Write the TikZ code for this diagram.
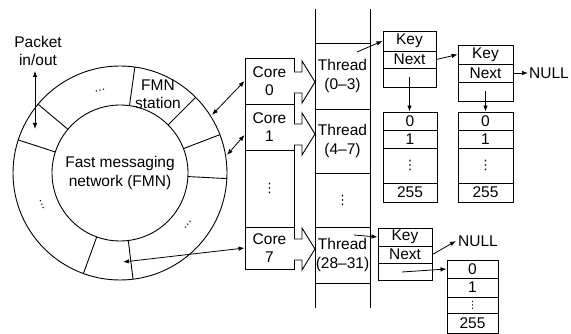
\documentclass[tikz,border=0pt]{standalone}
\usepackage{fontspec}
\setmainfont{Liberation Sans}
\newfontfamily\dvfont{DejaVu Sans}
\newcommand{\vd}{{\dvfont\fontsize{13}{13}\selectfont ⋮}}
\newcommand{\hd}{{\dvfont\fontsize{11}{11}\selectfont …}}
\usetikzlibrary{arrows.meta,calc}
\begin{document}
\begin{tikzpicture}[x=1pt,y=-1pt,
  every node/.style={font=\fontsize{15.5}{18.5}\selectfont, align=center},
  cell/.style={draw, line width=0.9pt, inner sep=0pt},
  ln/.style={line width=0.9pt},
  arr/.style={line width=0.8pt, -{Latex[length=6pt,width=4.5pt]}},
  darr/.style={line width=0.8pt, {Latex[length=6pt,width=4.5pt]}-{Latex[length=6pt,width=4.5pt]}},
  blk/.style={draw, line width=0.9pt, fill=white, line join=miter}]
\useasboundingbox (0,0) rectangle (571,334);

% ---------- ring ----------
\coordinate (ctr) at (120,173);
\draw[ln] (ctr) circle (107);
\node[circle, draw, line width=0.9pt, minimum size=136pt, inner sep=0pt] (fmn) at (ctr) {Fast messaging\\network (FMN)};
\foreach \a in {82,45,21,-3,-83,-110,162,140}{
  \draw[ln] ($(ctr)+(-\a:68)$) -- ($(ctr)+(-\a:107)$);
}
\node[rotate=13, inner sep=0pt] (dtop) at (100,91) {\hd};
\node[rotate=112, inner sep=0pt] (dleft) at (42,205) {\hd};
\node[rotate=53, inner sep=0pt] (dright) at (188,225) {\hd};
\node (station) at (158,94) {FMN\\station};
\node (packet) at (38,51) {Packet\\in/out};
\coordinate (pk1) at (35,71);
\coordinate (pk2) at (35,129);
\draw[darr] (pk1) -- (pk2);

% ---------- cores ----------
\node[cell, minimum width=49pt, minimum height=46pt] (c0) at (269.5,81) {Core\\0};
\node[cell, minimum width=49pt, minimum height=46pt] (c1) at (269.5,127) {Core\\1};
\node[cell, minimum width=49pt, minimum height=77pt] (cd) at (269.5,188.5) {\vd};
\node[cell, minimum width=49pt, minimum height=42pt] (c7) at (269.5,248) {Core\\7};

\coordinate (r0) at (212,115);
\coordinate (r1) at (227,155);
\coordinate (r7) at (123,262);
\draw[darr] (r0) -- (c0.west);
\draw[darr] (r1) -- ($(c1.west)+(0,8)$);
\draw[darr] (r7) -- (c7.west);

% ---------- threads ----------
\draw[ln] (315,9) -- (315,308);
\draw[ln] (370,9) -- (370,308);
\node[cell, minimum width=55pt, minimum height=66pt] (t0) at (342.5,76) {Thread\\(0–3)};
\node[cell, minimum width=55pt, minimum height=64pt] (t1) at (342.5,141) {Thread\\(4–7)};
\node[cell, minimum width=55pt, minimum height=54pt] (td) at (342.5,200) {\vd};
\node[cell, minimum width=55pt, minimum height=56pt] (t7) at (342.5,255) {Thread\\(28–31)};

% block arrows core -> thread
\foreach \y in {82,134,249}{
  \draw[blk] (294,\y-10) -- (302,\y-10) -- (302,\y-21) -- (315,\y) -- (302,\y+21) -- (302,\y+11) -- (294,\y+11);
}

% ---------- key blocks and arrays ----------
\node[cell, minimum width=53pt, minimum height=20pt] (k1key) at (409.5,41) {Key};
\node[cell, minimum width=53pt, minimum height=17pt] (k1next) at (409.5,59.5) {Next};
\node[cell, minimum width=53pt, minimum height=19pt] (k1emp) at (409.5,77.5) {};

\node[cell, minimum width=54pt, minimum height=18pt] (a1r0) at (410,121) {0};
\node[cell, minimum width=54pt, minimum height=18pt] (a1r1) at (410,139) {1};
\node[cell, minimum width=54pt, minimum height=35pt] (a1d) at (410,165.5) {\vd};
\node[cell, minimum width=54pt, minimum height=19pt] (a1r2) at (410,192.5) {255};

\node[cell, minimum width=55pt, minimum height=19pt] (k2key) at (485.5,54.5) {Key};
\node[cell, minimum width=55pt, minimum height=18pt] (k2next) at (485.5,73) {Next};
\node[cell, minimum width=55pt, minimum height=19pt] (k2emp) at (485.5,91.5) {};

\node[cell, minimum width=55pt, minimum height=18pt] (a2r0) at (485.5,121) {0};
\node[cell, minimum width=55pt, minimum height=18pt] (a2r1) at (485.5,139) {1};
\node[cell, minimum width=55pt, minimum height=35pt] (a2d) at (485.5,165.5) {\vd};
\node[cell, minimum width=55pt, minimum height=19pt] (a2r2) at (485.5,192.5) {255};

\node[inner sep=1pt, anchor=west] (null2) at (528,73) {NULL};

\node[cell, minimum width=54pt, minimum height=18pt] (k3key) at (405,237) {Key};
\node[cell, minimum width=54pt, minimum height=17pt] (k3next) at (405,254.5) {Next};
\node[cell, minimum width=54pt, minimum height=17pt] (k3emp) at (405,271.5) {};

\node[cell, minimum width=51pt, minimum height=18pt] (a3r0) at (472.5,269) {0};
\node[cell, minimum width=51pt, minimum height=19pt] (a3r1) at (472.5,287.5) {1};
\node[cell, minimum width=51pt, minimum height=16pt] (a3d) at (472.5,305) {{\dvfont\fontsize{10}{10}\selectfont ⋮}};
\node[cell, minimum width=51pt, minimum height=20pt] (a3r2) at (472.5,323) {255};

\node[inner sep=2pt, anchor=west] (null3) at (456,241) {NULL};

% ---------- connectors ----------
\coordinate (ts0) at (357,52);
\coordinate (ts7) at (354,235);
\draw[arr] (ts0) -- (k1key.west);
\draw[arr] (ts7) -- (k3key.west);
\draw[arr] (k1next.east) -- (k2key.west);
\draw[arr] (k1emp.center) -- (k1emp.center |- a1r0.north);
\draw[arr] (k2emp.center) -- (k2emp.center |- a2r0.north);
\draw[arr] (k2next.east) -- (null2.west);
\draw[arr] (k3next.east) -- (null3.west);
\coordinate (k3s) at (402,272);
\draw[arr] (k3s) -- (a3r0.west);
\end{tikzpicture}
\end{document}
